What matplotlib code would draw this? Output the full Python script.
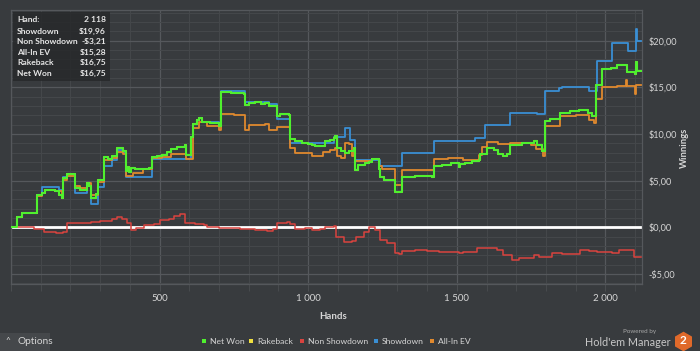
import numpy as np
import matplotlib
matplotlib.use("Agg")
import matplotlib.pyplot as plt
from matplotlib.lines import Line2D
from matplotlib.patches import Rectangle
from matplotlib.ticker import MultipleLocator, FuncFormatter

plt.rcParams['font.family'] = ['Lato', 'DejaVu Sans']

# hands / winnings (step points)
net_hands = [0, 16, 19, 36, 87, 103, 115, 130, 148, 160, 171, 174, 190, 216, 232, 255, 262, 269, 285, 294,
             314, 328, 340, 356, 378, 386, 392, 398, 405, 417, 445, 465, 476, 490, 507, 525, 540, 560, 587, 590,
             604, 611, 626, 632, 643, 670, 699, 708, 740, 783, 786, 800, 820, 840, 856, 867, 895, 906, 937, 940,
             957, 979, 1000, 1013, 1024, 1058, 1074, 1086, 1091, 1097, 1110, 1125, 1136, 1153, 1159, 1169, 1190,
             1206, 1215, 1237, 1243, 1254, 1293, 1316, 1360, 1417, 1422, 1450, 1480, 1506, 1512, 1529, 1550,
             1573, 1579, 1600, 1624, 1640, 1657, 1669, 1680, 1720, 1758, 1770, 1785, 1798, 1815, 1848, 1880,
             1910, 1940, 1955, 1968, 1990, 2020, 2040, 2072, 2098, 2102, 2105, 2118]
net_won = [0, 0, 1.14, 1.5, 3.45, 3.7, 4.0, 4.0, 3.9, 3.5, 3.1, 5.25, 5.7, 4.2, 4.0, 4.7, 4.4, 3.1, 3.6, 5.1,
           7.5, 7.3, 7.6, 8.55, 8.2, 6.0, 6.5, 5.9, 6.4, 6.2, 6.3, 6.4, 7.5, 7.6, 7.8, 8.1, 8.4, 8.6, 8.8, 7.75,
           9.7, 11.07, 11.5, 11.7, 11.3, 11.2, 10.86, 14.47, 14.4, 14.3, 13.1, 13.3, 13.4, 13.2, 13.35, 13.0,
           11.95, 12.1, 12.0, 9.45, 9.2, 9.0, 8.9, 8.8, 8.7, 9.2, 9.4, 9.6, 9.8, 8.47, 8.2, 8.0, 8.2, 8.47, 6.14,
           6.7, 6.9, 7.0, 7.3, 6.3, 5.4, 5.07, 3.75, 5.4, 5.45, 5.4, 6.6, 6.7, 6.85, 6.5, 6.8, 6.9, 7.1, 7.2, 7.9,
           8.5, 8.3, 7.9, 7.6, 7.9, 8.8, 9.0, 9.2, 8.8, 8.2, 11.4, 11.6, 12.3, 12.5, 12.6, 12.3, 11.9, 15.25,
           17.0, 17.1, 17.4, 16.6, 16.4, 17.75, 16.75, 16.75]
rakeback = net_won  # rakeback total equals net won

sd_hands = [0, 16, 19, 36, 87, 103, 160, 174, 190, 216, 255, 269, 294, 314, 340, 356, 378, 386, 476, 604,
            611, 626, 632, 643, 699, 708, 786, 867, 895, 940, 1086, 1125, 1142, 1159, 1243, 1316, 1422, 1562,
            1596, 1680, 1770, 1798, 1843, 1853, 1944, 1970, 2022, 2076, 2102, 2105, 2118]
showdown = [0, 0, 1.14, 1.5, 3.45, 4.3, 4.0, 5.4, 5.7, 3.7, 4.4, 2.5, 4.3, 6.6, 7.2, 8.3, 8.0, 5.4, 7.3, 9.7,
            11.07, 11.5, 11.7, 11.3, 10.9, 14.6, 13.46, 13.2, 11.57, 9.07, 9.7, 10.6, 9.36, 7.2, 6.6, 7.95, 9.3,
            9.6, 11.0, 12.28, 12.2, 14.64, 14.9, 15.07, 14.6, 17.85, 19.8, 18.9, 21.3, 20.0, 19.96]

nsd_hands = [0, 40, 77, 111, 150, 175, 189, 230, 270, 301, 340, 357, 375, 391, 405, 420, 447, 480, 502, 530,
             547, 569, 587, 620, 648, 660, 700, 749, 771, 820, 861, 880, 894, 928, 940, 957, 990, 1013, 1040,
             1058, 1086, 1095, 1119, 1147, 1160, 1187, 1205, 1220, 1226, 1243, 1265, 1293, 1304, 1316, 1360,
             1400, 1440, 1480, 1506, 1520, 1550, 1568, 1600, 1635, 1655, 1686, 1710, 1742, 1759, 1775, 1820,
             1854, 1888, 1916, 1944, 1970, 2000, 2022, 2045, 2089, 2095, 2118]
non_showdown = [0, 0, -0.2, -0.55, -0.65, -0.5, 0.43, 0.5, 0.6, 0.7, 0.85, 1.07, 0.9, 0.5, -0.3, -0.1, 0.2,
                0.3, 0.75, 0.9, 1.2, 1.45, 0.45, 0.4, 0.2, 0.0, -0.1, -0.05, -0.2, -0.3, -0.35, -0.2, 0.5, 0.6,
                0.4, -0.2, -0.05, -0.3, -0.2, 0.0, 0.15, -1.0, -1.55, -1.5, -1.0, -0.5, 0.05, 0.0, -0.3, -1.35,
                -1.65, -2.8, -2.86, -2.55, -2.45, -2.5, -2.6, -2.65, -2.8, -2.6, -2.65, -2.25, -2.25, -2.4, -3.0,
                -3.5, -3.3, -3.25, -3.0, -3.15, -2.8, -2.9, -2.85, -2.45, -2.5, -2.6, -2.65, -2.8, -2.45, -2.4,
                -3.15, -3.21]

ev_hands = [0, 16, 19, 36, 87, 103, 115, 148, 171, 174, 190, 216, 232, 255, 269, 294, 314, 340, 356, 378, 386,
            410, 445, 476, 507, 540, 587, 590, 611, 632, 660, 699, 708, 750, 786, 800, 856, 867, 895, 940, 957,
            1013, 1050, 1074, 1091, 1097, 1110, 1125, 1138, 1147, 1153, 1159, 1215, 1237, 1248, 1293, 1316,
            1422, 1470, 1520, 1573, 1585, 1600, 1640, 1680, 1750, 1765, 1790, 1798, 1848, 1900, 1945, 1960,
            1968, 1990, 2040, 2068, 2074, 2098, 2102, 2118]
all_in_ev = [0, 0, 1.14, 1.5, 3.4, 3.7, 3.95, 3.85, 3.1, 5.1, 5.5, 4.4, 4.2, 4.8, 3.5, 4.9, 7.2, 7.4, 8.1, 7.9,
             5.5, 5.8, 6.2, 7.4, 7.5, 7.9, 7.9, 7.3, 10.6, 11.3, 10.9, 10.4, 12.14, 12.0, 10.43, 10.96, 11.1,
             10.4, 10.8, 8.47, 7.93, 7.6, 8.1, 8.3, 8.5, 7.6, 7.4, 9.0, 8.9, 7.6, 8.4, 7.1, 7.3, 6.57, 6.2, 4.5,
             6.14, 7.28, 7.4, 7.2, 7.75, 8.6, 9.17, 8.9, 9.0, 8.8, 8.4, 7.6, 10.9, 11.9, 12.0, 11.5, 11.2, 13.8,
             15.0, 15.2, 15.8, 15.1, 14.25, 15.28, 15.28]

summary_labels = ['Hand:', 'Showdown', 'Non Showdown', 'All-In EV', 'Rakeback', 'Net Won']
summary_values = ['2 118', '$19,96', '-$3,21', '$15,28', '$16,75', '$16,75']

legend_names = ['Net Won', 'Rakeback', 'Non Showdown', 'Showdown', 'All-In EV']

bg = '#383b3e'
c_green = '#4ff02e'
c_yellow = '#f0e040'
c_red = '#d9433f'
c_blue = '#3a8fd4'
c_orange = '#e0892e'
legend_colors = [c_green, c_yellow, c_red, c_blue, c_orange]
txt = '#d6d6d6'

W, H = 700, 351
fig = plt.figure(figsize=(7, 3.51), dpi=100, facecolor=bg)
ax = fig.add_axes([11 / W, 67 / H, 631 / W, 274 / H], facecolor=bg)


def fx(x):
    return x / W


def fy(y):
    return 1 - y / H


ax.set_xlim(0, 2123)
ax.set_ylim(-6.08, 23.3)

ax.xaxis.set_major_locator(MultipleLocator(500))
ax.xaxis.set_minor_locator(MultipleLocator(100))
ax.yaxis.set_major_locator(MultipleLocator(5))
ax.yaxis.set_minor_locator(MultipleLocator(1))
ax.xaxis.set_major_formatter(FuncFormatter(lambda v, p: '' if v <= 0 else f'{int(v):,}'.replace(',', ' ')))


def money(v, p):
    s = f'${abs(v):.2f}'.replace('.', ',')
    return '-' + s if v < 0 else s


ax.yaxis.set_major_formatter(FuncFormatter(money))
ax.yaxis.tick_right()
ax.grid(which='major', color='#55585c', linewidth=0.9)
ax.grid(which='minor', color='#45484b', linewidth=0.7)
ax.set_axisbelow(True)
ax.tick_params(axis='x', which='both', direction='out', length=5, color='#4a4d50', labelsize=7,
               labelcolor=txt, pad=2)
ax.tick_params(axis='y', which='both', length=0, labelsize=6.6, labelcolor=txt, pad=4.5)
for s in ax.spines.values():
    s.set_color('#55585c')
    s.set_linewidth(0.9)

ax.axhline(0, color='white', linewidth=2, zorder=2)
ax.plot(nsd_hands, non_showdown, drawstyle='steps-post', color=c_red, linewidth=1.1, zorder=3)
ax.plot(sd_hands, showdown, drawstyle='steps-post', color=c_blue, linewidth=1.3, zorder=3)
ax.plot(ev_hands, all_in_ev, drawstyle='steps-post', color=c_orange, linewidth=1.3, zorder=4)
ax.plot(net_hands, rakeback, drawstyle='steps-post', color=c_yellow, linewidth=1.3, zorder=4)
ax.plot(net_hands, net_won, drawstyle='steps-post', color=c_green, linewidth=1.5, zorder=5)

ax.set_xlabel('Hands', color=txt, fontsize=7, fontweight='bold')
ax.xaxis.set_label_coords((333 - 11) / 631, (284 - 312) / 274)
fig.text(fx(684), fy(148), 'Winnings', rotation=90, color=txt, fontsize=6.8, fontweight='bold',
         ha='center', va='center')

# summary box
fig.patches.append(Rectangle((fx(13), fy(81)), (110 - 13) / W, (81 - 12) / H, transform=fig.transFigure,
                             facecolor='#27292b', alpha=0.85, edgecolor='none', zorder=10))
row_y = [19.5, 31, 41.7, 52.3, 62.7, 73.3]
for i, (lab, val) in enumerate(zip(summary_labels, summary_values)):
    fig.text(fx(17), fy(row_y[i]), lab, color='#e6e6e6', fontsize=6.1, fontweight='bold',
             va='center', ha='left', zorder=11)
    fig.text(fx(106), fy(row_y[i]), val, color='#e6e6e6', fontsize=6.1, fontweight='bold',
             va='center', ha='right', zorder=11)

# legend (placed by hand like the app's footer)
leg_x = [204, 251, 302, 376, 432]
for x, name, c in zip(leg_x, legend_names, legend_colors):
    fig.patches.append(Rectangle((fx(x - 2), fy(342.7)), 4 / W, 4 / H, transform=fig.transFigure,
                                 facecolor=c, edgecolor='none'))
    fig.text(fx(x + 6), fy(341), name, color=txt, fontsize=6.1, ha='left', va='center')

# options button
fig.patches.append(Rectangle((0, 0), 50 / W, 18 / H, transform=fig.transFigure, facecolor='#45484b',
                             edgecolor='none'))
fig.text(fx(8), fy(341), '^', color=txt, fontsize=6, ha='center', va='center')
fig.text(fx(18), fy(342), 'Options', color=txt, fontsize=7.3, ha='left', va='center')

# branding
fig.text(fx(640), fy(332), 'Powered by', color='#a8a8a8', fontsize=4.5, ha='center', va='center')
fig.text(fx(671), fy(342), "Hold'em Manager", color='#c8c8c8', fontsize=7.8, ha='right', va='center')
fig.add_artist(Line2D([fx(683)], [fy(341)], marker='h', markersize=13, color='#e0692a',
                      transform=fig.transFigure))
fig.text(fx(683), fy(341), '2', color='white', fontsize=8.5, fontweight='bold', ha='center', va='center')

fig.savefig('out.png', dpi=100, facecolor=bg)
